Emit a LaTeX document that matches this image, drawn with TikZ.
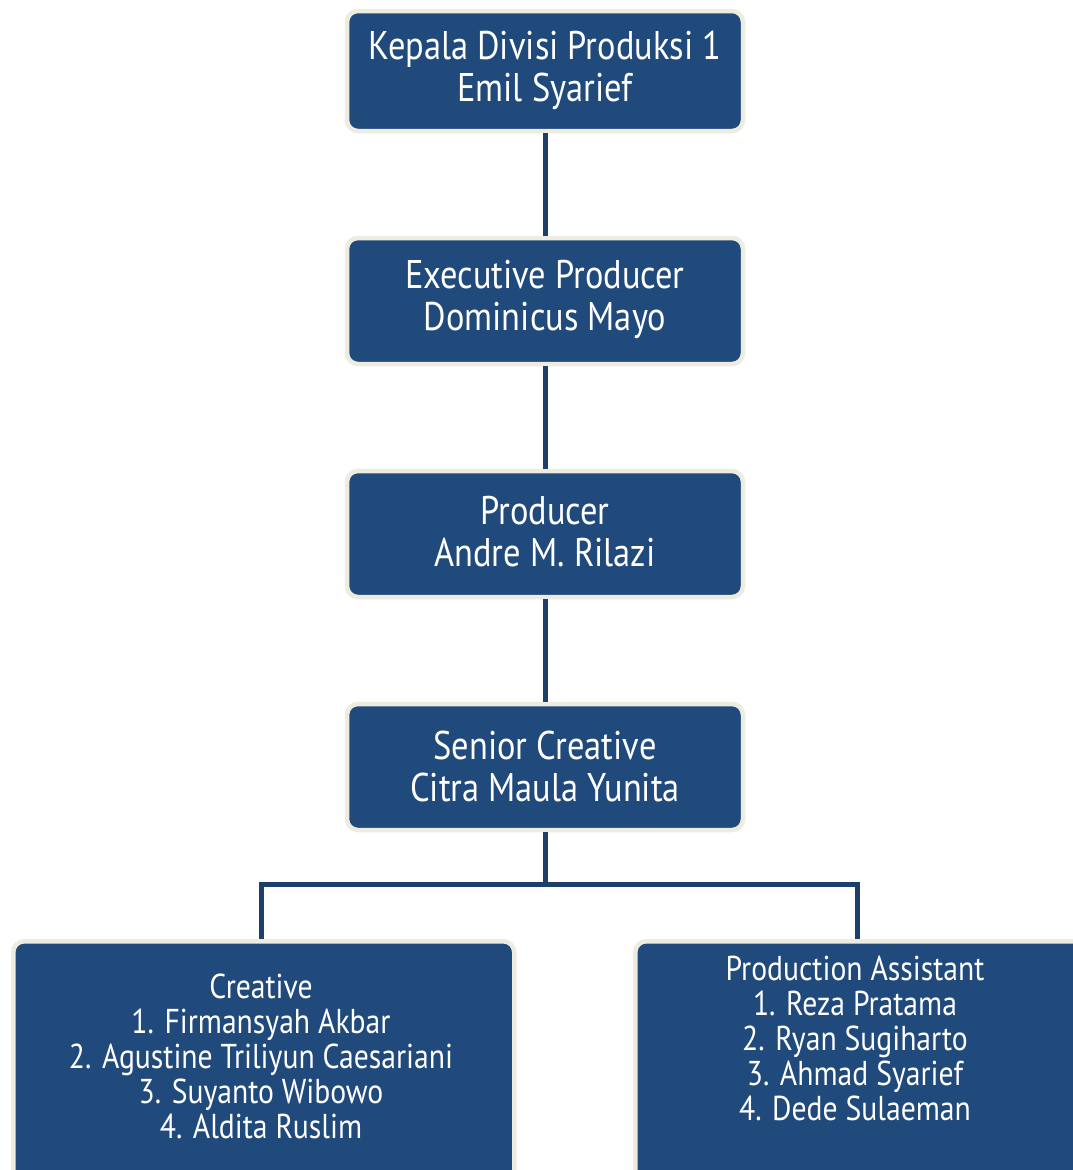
\documentclass[tikz,border=0pt]{standalone}
\usepackage{fontspec}
\setmainfont[FakeStretch=0.86]{PT Sans}
\definecolor{boxblue}{HTML}{214A7C}
\definecolor{linenavy}{HTML}{1C3F6C}
\definecolor{cream}{HTML}{EEEBE0}
\begin{document}
\begin{tikzpicture}[x=1pt,y=-1pt,
  orgbox/.style={rectangle, rounded corners=11pt, fill=boxblue, draw=cream, line width=4.5pt, inner sep=0pt},
  boxtext/.style={text=white, align=center, font=\fontsize{40}{42}\selectfont},
  smalltext/.style={text=white, align=center, font=\fontsize{34.5}{35}\selectfont},
  link/.style={draw=linenavy, line width=5pt}]
\useasboundingbox (0,0) rectangle (1073,1170);
\clip (0,0) rectangle (1073,1170);
\fill[white] (0,0) rectangle (1073,1170);
\node[orgbox, minimum width=396pt, minimum height=120pt] (b1) at (545,71) {};
\node[orgbox, minimum width=396pt, minimum height=126pt] (b2) at (545,301) {};
\node[orgbox, minimum width=396pt, minimum height=126pt] (b3) at (545,534) {};
\node[orgbox, minimum width=396pt, minimum height=126pt] (b4) at (545,767) {};
\node[orgbox, minimum width=501pt, minimum height=250pt, anchor=north west] (b5) at (11,939) {};
\node[orgbox, minimum width=460pt, minimum height=250pt, anchor=north west] (b6) at (633,939) {};
\node[boxtext] (t1) at (545,70) {Kepala Divisi Produksi 1\\Emil Syarief};
\node[boxtext] (t2) at (545,299) {Executive Producer\\Dominicus Mayo};
\node[boxtext] (t3) at (545,532) {Producer\\Andre M. Rilazi};
\node[boxtext] (t4) at (545,766) {Senior Creative\\Citra Maula Yunita};
\node[smalltext] (t5) at (261,1056) {Creative\\1. Firmansyah Akbar\\2. Agustine Triliyun Caesariani\\3. Suyanto Wibowo\\4. Aldita Ruslim};
\node[smalltext] (t6) at (855,1038) {Production Assistant\\1. Reza Pratama\\2. Ryan Sugiharto\\3. Ahmad Syarief\\4. Dede Sulaeman};
\coordinate (j) at (545,884);
\coordinate (jl) at (261,884);
\coordinate (jr) at (857,884);
\path[link] (b1.south) -- (b2.north);
\path[link] (b2.south) -- (b3.north);
\path[link] (b3.south) -- (b4.north);
\path[link] (b4.south) -- (j);
\path[link, line cap=rect] (jl) -- (jr);
\path[link] (jl) -- (jl |- b5.north);
\path[link] (jr) -- (jr |- b6.north);
\end{tikzpicture}
\end{document}
